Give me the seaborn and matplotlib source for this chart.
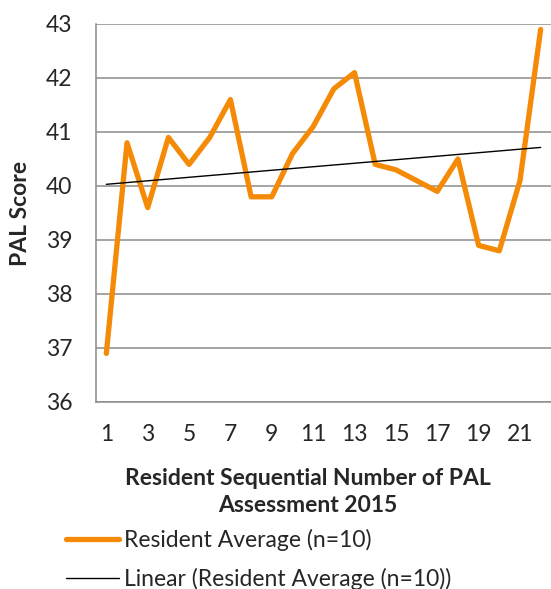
import numpy as np
import pandas as pd
import matplotlib
matplotlib.use("Agg")
import matplotlib.pyplot as plt
from matplotlib.ticker import FixedLocator
import seaborn as sns

# Data
assessment = list(range(1, 23))
resident_avg = [36.9, 40.8, 39.6, 40.9, 40.4, 40.9, 41.6, 39.8, 39.8, 40.6, 41.1,
                41.8, 42.1, 40.4, 40.3, 40.1, 39.9, 40.5, 38.9, 38.8, 40.1, 42.9]
y_ticks = [36, 37, 38, 39, 40, 41, 42, 43]
x_tick_labels = [1, 3, 5, 7, 9, 11, 13, 15, 17, 19, 21]

series_label = "Resident Average (n=10)"
trend_label = "Linear (Resident Average (n=10))"

df = pd.DataFrame({"n": assessment, "score": resident_avg})

sns.set_style("white")
plt.rcParams["font.family"] = ["Lato", "DejaVu Sans"]

W, H = 551, 589
fig = plt.figure(figsize=(W / 100, H / 100), dpi=100)
ax = fig.add_axes([96 / W, 1 - 402 / H, (W - 96) / W, (402 - 24) / H])

orange = "#F58A07"
grey = "#8C8C8C"
fs = 16.5

sns.lineplot(data=df, x="n", y="score", ax=ax, color=orange, lw=3.8,
             label=series_label, zorder=3)
sns.regplot(data=df, x="n", y="score", ax=ax, scatter=False, ci=None,
            color="black", line_kws={"lw": 1.0, "zorder": 4}, label=trend_label)

ax.set_xlim(0.5, 22.5)
ax.set_ylim(36, 43)
ax.set_yticks(y_ticks)
ax.set_xticks(x_tick_labels)
ax.xaxis.set_minor_locator(FixedLocator(np.arange(0.5, 23, 1)))
ax.tick_params(axis="x", which="major", length=0, pad=16, labelsize=fs)
ax.tick_params(axis="x", which="minor", length=6, width=1.1, color=grey, direction="out")
ax.tick_params(axis="y", length=6, width=1.1, color=grey, direction="out", pad=11, labelsize=fs)

ax.grid(axis="y", color=grey, lw=1.1)
ax.grid(axis="x", visible=False)
for s in ["top", "right"]:
    ax.spines[s].set_visible(False)
for s in ["left", "bottom"]:
    ax.spines[s].set_color(grey)
    ax.spines[s].set_linewidth(1.1)

ax.set_ylabel("PAL Score", fontsize=fs, fontweight="bold")
ax.yaxis.set_label_coords((31 - 96) / (W - 96), 0.5)
ax.set_xlabel("")
fig.text(308 / W, 1 - 492 / H, "Resident Sequential Number of PAL\nAssessment 2015",
         ha="center", va="center", fontsize=fs, fontweight="bold", linespacing=1.3)

handles, labels = ax.get_legend_handles_labels()
if ax.get_legend():
    ax.get_legend().remove()
fig.legend(handles, labels, loc="upper left", bbox_to_anchor=(66 / W, 1 - 529 / H),
           frameon=False, fontsize=fs, handlelength=2.3, handletextpad=0.25,
           labelspacing=0.75, borderaxespad=0, borderpad=0)

fig.savefig("out.png", dpi=100)
